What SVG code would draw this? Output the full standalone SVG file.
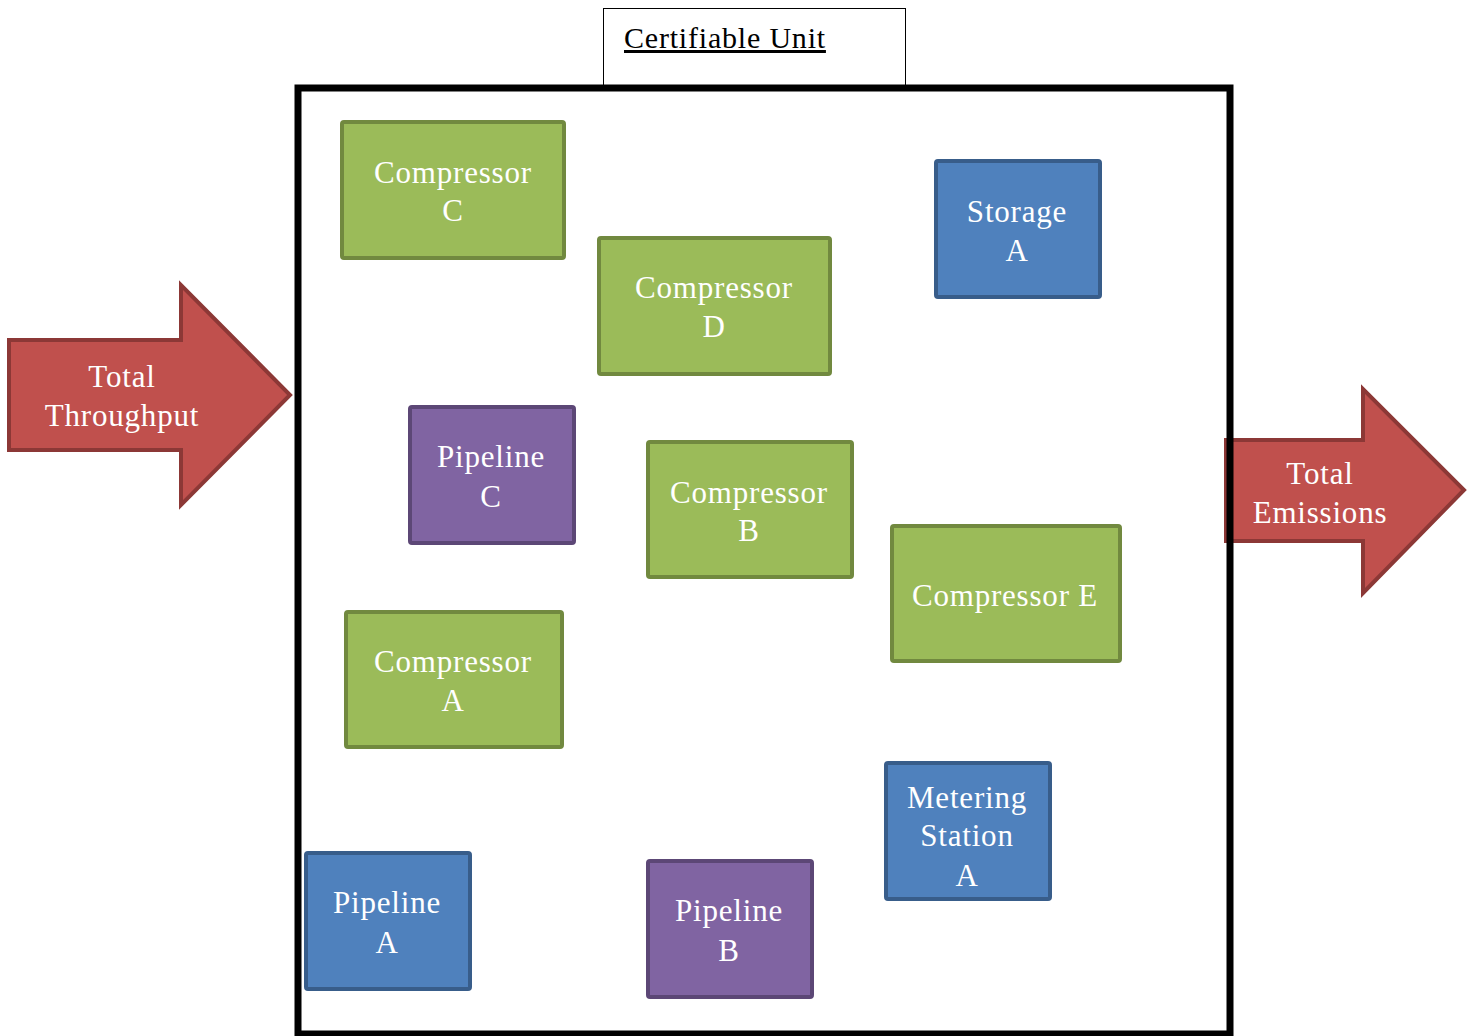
<svg xmlns="http://www.w3.org/2000/svg" width="1474" height="1036" viewBox="0 0 1474 1036">
<style>
.t{font-family:"Liberation Serif","Times New Roman",serif;font-size:31px;fill:#ffffff;text-anchor:middle;letter-spacing:0.8px}
.g{fill:#9BBB59;stroke:#71893F;stroke-width:4}
.b{fill:#4F81BD;stroke:#385D8A;stroke-width:4}
.p{fill:#8064A2;stroke:#5C4776;stroke-width:4}
.arr{fill:#C0504D;stroke:#8C3836;stroke-width:4;stroke-linejoin:miter}
</style>
<rect width="1474" height="1036" fill="#ffffff"/>
<g id="title">
<rect x="603.5" y="8.5" width="302" height="78" fill="#ffffff" stroke="#000000" stroke-width="1"/>
<text x="624" y="48" font-family="Liberation Serif,Times New Roman,serif" font-size="30" fill="#000000" text-decoration="underline" letter-spacing="0.8">Certifiable Unit</text>
</g>
<g id="total-throughput">
<polygon class="arr" points="9,340 181,340 181,285 290,395 181,505 181,450 9,450"/>
<text class="t" x="122" y="387">Total</text>
<text class="t" x="122" y="426">Throughput</text>
</g>
<g id="total-emissions">
<polygon class="arr" points="1226,440 1363,440 1363,389 1464,490 1363,593 1363,541 1226,541"/>
<text class="t" x="1320" y="484">Total</text>
<text class="t" x="1320" y="523">Emissions</text>
</g>
<g id="certifiable-unit">
<rect x="298" y="88" width="932" height="946" fill="none" stroke="#000000" stroke-width="7"/>
</g>
<g id="connectors"></g>
<g id="compressor-c">
<rect class="g" x="342" y="122" width="222" height="136" rx="2"/>
<text class="t" x="453" y="183">Compressor</text>
<text class="t" x="453" y="221">C</text>
</g>
<g id="compressor-d">
<rect class="g" x="599" y="238" width="231" height="136" rx="2"/>
<text class="t" x="714" y="298">Compressor</text>
<text class="t" x="714" y="337">D</text>
</g>
<g id="storage-a">
<rect class="b" x="936" y="161" width="164" height="136" rx="2"/>
<text class="t" x="1017" y="222">Storage</text>
<text class="t" x="1017" y="261">A</text>
</g>
<g id="pipeline-c">
<rect class="p" x="410" y="407" width="164" height="136" rx="2"/>
<text class="t" x="491" y="467">Pipeline</text>
<text class="t" x="491" y="507">C</text>
</g>
<g id="compressor-b">
<rect class="g" x="648" y="442" width="204" height="135" rx="2"/>
<text class="t" x="749" y="503">Compressor</text>
<text class="t" x="749" y="541">B</text>
</g>
<g id="compressor-e">
<rect class="g" x="892" y="526" width="228" height="135" rx="2"/>
<text class="t" x="1005" y="606">Compressor E</text>
</g>
<g id="compressor-a">
<rect class="g" x="346" y="612" width="216" height="135" rx="2"/>
<text class="t" x="453" y="672">Compressor</text>
<text class="t" x="453" y="711">A</text>
</g>
<g id="metering-station-a">
<rect class="b" x="886" y="763" width="164" height="136" rx="2"/>
<text class="t" x="967" y="808">Metering</text>
<text class="t" x="967" y="846">Station</text>
<text class="t" x="967" y="886">A</text>
</g>
<g id="pipeline-a">
<rect class="b" x="306" y="853" width="164" height="136" rx="2"/>
<text class="t" x="387" y="913">Pipeline</text>
<text class="t" x="387" y="953">A</text>
</g>
<g id="pipeline-b">
<rect class="p" x="648" y="861" width="164" height="136" rx="2"/>
<text class="t" x="729" y="921">Pipeline</text>
<text class="t" x="729" y="961">B</text>
</g>
</svg>
